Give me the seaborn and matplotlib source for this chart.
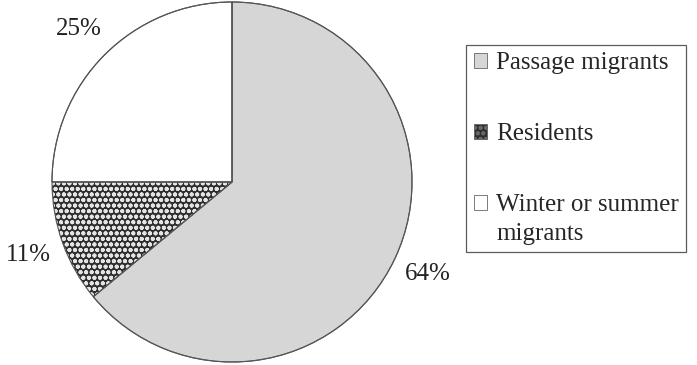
import matplotlib
matplotlib.use("Agg")
import matplotlib.pyplot as plt
import seaborn as sns

categories = ["Passage migrants", "Residents", "Winter or summer\nmigrants"]
shares = [64, 11, 25]
colors = ["#d6d6d6", "#2e2e2e", "#ffffff"]
hatches = [None, "ooo", None]

sns.set_style("white")
plt.rcParams["font.family"] = ["Liberation Serif", "DejaVu Serif"]
plt.rcParams["hatch.linewidth"] = 1.3

fig = plt.figure(figsize=(6.97, 3.65), dpi=100)
ax = fig.add_axes([52 / 697, 3 / 365, 360 / 697, 360 / 365])

wedges, texts, autotexts = ax.pie(
    shares,
    colors=colors,
    startangle=90,
    counterclock=False,
    autopct="%d%%",
    pctdistance=1.2,
    wedgeprops=dict(linewidth=0.8, edgecolor="#555555"),
    textprops=dict(fontsize=18, color="#222222"),
)
for w, h in zip(wedges, hatches):
    if h:
        w.set_hatch(h)
        w.set_edgecolor("#e4e4e4")
        w.set_linewidth(0)

# outlines on top
ax.pie(shares, startangle=90, counterclock=False,
       wedgeprops=dict(fill=False, linewidth=0.8, edgecolor="#555555"))
ax.set_xlim(-1, 1)
ax.set_ylim(-1, 1)

leg = fig.legend(
    wedges, categories,
    loc="upper left", bbox_to_anchor=(466 / 697, 1 - 45 / 365),
    frameon=True, fancybox=False, fontsize=18,
    handlelength=0.55, handleheight=0.55, handletextpad=0.35,
    labelspacing=1.95, borderpad=0.3, borderaxespad=0,
)
for t in leg.get_texts():
    t.set_linespacing(1.4)
leg.get_frame().set_edgecolor("#333333")
leg.get_frame().set_linewidth(0.9)
for h in leg.legend_handles:
    h.set_edgecolor("#666666")
    h.set_linewidth(0.6)
# put the last marker beside the first line of its label
last = leg.legend_handles[-1]
last.set_y(last.get_y() + 12)

fig.savefig("out.png", dpi=100)
